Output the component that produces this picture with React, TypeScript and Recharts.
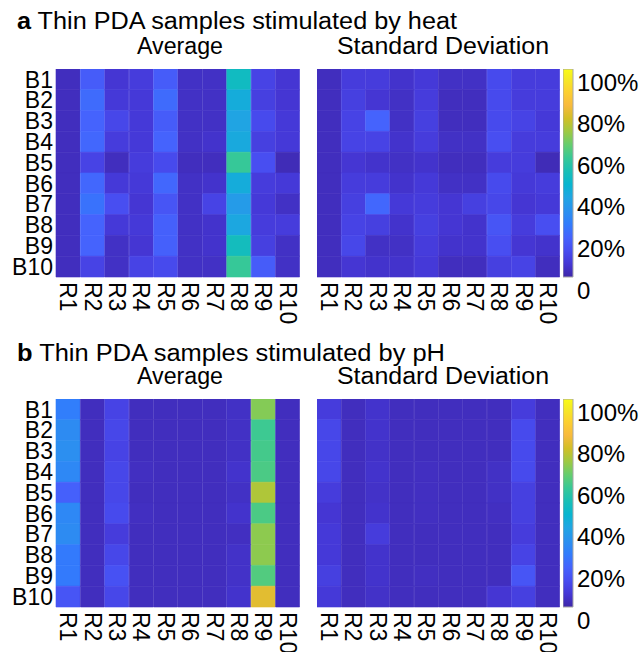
import React from 'react'
import { Bar, BarChart, Cell, XAxis, YAxis } from 'recharts'

const FONT = '"Liberation Sans", Arial, Helvetica, sans-serif'

const bLabels = ['B1', 'B2', 'B3', 'B4', 'B5', 'B6', 'B7', 'B8', 'B9', 'B10']
const rLabels = ['R1', 'R2', 'R3', 'R4', 'R5', 'R6', 'R7', 'R8', 'R9', 'R10']

// rows B1..B10, columns R1..R10, as a fraction of full scale
const heatAverage = [
  [0.03, 0.17, 0.06, 0.08, 0.17, 0.04, 0.04, 0.48, 0.1, 0.06],
  [0.03, 0.21, 0.07, 0.07, 0.21, 0.04, 0.04, 0.41, 0.09, 0.06],
  [0.03, 0.19, 0.11, 0.07, 0.17, 0.04, 0.04, 0.38, 0.12, 0.07],
  [0.03, 0.2, 0.08, 0.07, 0.19, 0.04, 0.05, 0.4, 0.09, 0.07],
  [0.03, 0.1, 0.03, 0.08, 0.12, 0.03, 0.03, 0.57, 0.13, 0.02],
  [0.03, 0.2, 0.07, 0.07, 0.2, 0.04, 0.05, 0.41, 0.08, 0.07],
  [0.03, 0.23, 0.13, 0.06, 0.15, 0.04, 0.1, 0.35, 0.07, 0.04],
  [0.03, 0.19, 0.07, 0.07, 0.18, 0.04, 0.05, 0.39, 0.08, 0.08],
  [0.03, 0.19, 0.04, 0.06, 0.18, 0.04, 0.05, 0.49, 0.09, 0.04],
  [0.03, 0.1, 0.04, 0.1, 0.12, 0.04, 0.04, 0.57, 0.17, 0.04],
]

const heatStd = [
  [0.03, 0.08, 0.08, 0.05, 0.07, 0.04, 0.04, 0.12, 0.08, 0.08],
  [0.03, 0.09, 0.06, 0.04, 0.08, 0.03, 0.03, 0.12, 0.08, 0.08],
  [0.03, 0.1, 0.19, 0.04, 0.09, 0.03, 0.03, 0.12, 0.1, 0.07],
  [0.03, 0.1, 0.1, 0.05, 0.08, 0.04, 0.04, 0.13, 0.08, 0.08],
  [0.03, 0.06, 0.05, 0.04, 0.05, 0.03, 0.03, 0.08, 0.08, 0.02],
  [0.03, 0.08, 0.08, 0.05, 0.07, 0.04, 0.04, 0.12, 0.07, 0.08],
  [0.03, 0.09, 0.2, 0.07, 0.08, 0.06, 0.09, 0.11, 0.06, 0.07],
  [0.03, 0.1, 0.09, 0.05, 0.09, 0.06, 0.05, 0.15, 0.08, 0.13],
  [0.03, 0.11, 0.04, 0.04, 0.08, 0.05, 0.05, 0.13, 0.06, 0.05],
  [0.03, 0.06, 0.05, 0.05, 0.07, 0.03, 0.03, 0.09, 0.1, 0.03],
]

const phAverage = [
  [0.26, 0.03, 0.1, 0.03, 0.03, 0.03, 0.03, 0.04, 0.67, 0.03],
  [0.3, 0.03, 0.11, 0.03, 0.03, 0.03, 0.03, 0.04, 0.58, 0.03],
  [0.31, 0.03, 0.1, 0.03, 0.03, 0.03, 0.03, 0.04, 0.59, 0.03],
  [0.29, 0.03, 0.11, 0.035, 0.03, 0.03, 0.03, 0.05, 0.6, 0.03],
  [0.18, 0.03, 0.11, 0.03, 0.03, 0.03, 0.03, 0.04, 0.72, 0.03],
  [0.29, 0.03, 0.12, 0.035, 0.03, 0.03, 0.03, 0.05, 0.6, 0.03],
  [0.3, 0.03, 0.08, 0.03, 0.03, 0.03, 0.03, 0.035, 0.68, 0.03],
  [0.25, 0.03, 0.11, 0.03, 0.03, 0.03, 0.03, 0.045, 0.68, 0.03],
  [0.25, 0.03, 0.14, 0.03, 0.03, 0.03, 0.03, 0.045, 0.61, 0.03],
  [0.15, 0.03, 0.11, 0.03, 0.03, 0.03, 0.03, 0.05, 0.79, 0.03],
]

const phStd = [
  [0.08, 0.03, 0.05, 0.03, 0.03, 0.03, 0.03, 0.03, 0.08, 0.03],
  [0.11, 0.03, 0.05, 0.03, 0.03, 0.03, 0.03, 0.03, 0.12, 0.03],
  [0.11, 0.03, 0.045, 0.03, 0.03, 0.03, 0.03, 0.03, 0.12, 0.03],
  [0.11, 0.03, 0.05, 0.03, 0.035, 0.03, 0.03, 0.04, 0.12, 0.03],
  [0.08, 0.03, 0.045, 0.03, 0.035, 0.03, 0.03, 0.04, 0.09, 0.03],
  [0.06, 0.03, 0.05, 0.03, 0.035, 0.03, 0.03, 0.035, 0.09, 0.03],
  [0.07, 0.03, 0.08, 0.03, 0.03, 0.03, 0.03, 0.03, 0.08, 0.03],
  [0.07, 0.03, 0.05, 0.03, 0.03, 0.03, 0.03, 0.03, 0.1, 0.03],
  [0.09, 0.03, 0.05, 0.03, 0.035, 0.03, 0.03, 0.03, 0.15, 0.03],
  [0.07, 0.03, 0.045, 0.03, 0.03, 0.03, 0.03, 0.06, 0.09, 0.03],
]

const colorTicks = [0, 0.2, 0.4, 0.6, 0.8, 1]
const colorTickLabels = ['0', '20%', '40%', '60%', '80%', '100%']

// parula colormap, every 4th entry of the 64-entry table
const parulaStops = [
  [0.2422, 0.1504, 0.6603],
  [0.2706, 0.2147, 0.8364],
  [0.2813, 0.3006, 0.9414],
  [0.2699, 0.3892, 0.9906],
  [0.1963, 0.4847, 0.9892],
  [0.1687, 0.5703, 0.9359],
  [0.1248, 0.6459, 0.8883],
  [0.0297, 0.7082, 0.8163],
  [0.0964, 0.75, 0.712],
  [0.2161, 0.7843, 0.5923],
  [0.3909, 0.8029, 0.4354],
  [0.6174, 0.7876, 0.2612],
  [0.8203, 0.7498, 0.1535],
  [0.9728, 0.7298, 0.2394],
  [0.9892, 0.8136, 0.1885],
  [0.9597, 0.9135, 0.1423],
  [0.9769, 0.9839, 0.0805],
]
const parulaPos = [0, 4, 8, 12, 16, 20, 24, 28, 32, 36, 40, 44, 48, 52, 56, 60, 63].map((i) => i / 63)

function toHex(rgb: number[]) {
  return '#' + rgb.map((c) => Math.round(c * 255).toString(16).padStart(2, '0')).join('')
}

function parula(value: number) {
  const v = Math.max(0, Math.min(1, value))
  let k = 0
  while (k < parulaPos.length - 2 && v > parulaPos[k + 1]) k++
  const t = (v - parulaPos[k]) / (parulaPos[k + 1] - parulaPos[k])
  const a = parulaStops[k]
  const b = parulaStops[k + 1]
  return toHex(a.map((c, i) => c + (b[i] - c) * t))
}

function RotatedTick(props: any) {
  const { x, y, payload } = props
  return (
    <text
      transform={`translate(${x},${y + 5}) rotate(90)`}
      textAnchor="start"
      dominantBaseline="central"
      fontSize={23}
      fontFamily={FONT}
      fill="#000"
    >
      {payload.value}
    </text>
  )
}

function ColorTick(props: any) {
  const { x, y, payload, index } = props
  return (
    <text x={x + 4} y={y + 13} dominantBaseline="central" fontSize={24} fontFamily={FONT} fill="#000">
      {colorTickLabels[index] ?? payload.value}
    </text>
  )
}

interface HeatmapProps {
  values: number[][]
  showRows: boolean
}

function Heatmap({ values, showRows }: HeatmapProps) {
  const data = rLabels.map((r) => {
    const row: Record<string, string | number> = { r }
    bLabels.forEach((b) => {
      row[b] = 1
    })
    return row
  })
  const rowTicks = bLabels.map((_, i) => i + 0.5)

  return (
    <BarChart
      width={showRows ? 300 : 243}
      height={263}
      data={data}
      margin={{ top: 0, right: 0, bottom: 0, left: 0 }}
      barCategoryGap={0}
      barGap={0}
    >
      <XAxis
        dataKey="r"
        interval={0}
        tick={<RotatedTick />}
        axisLine={false}
        tickLine={false}
        tickSize={0}
        tickMargin={0}
        height={55}
      />
      <YAxis
        type="number"
        domain={[0, 10]}
        reversed
        ticks={rowTicks}
        interval={0}
        tickFormatter={(v: number) => bLabels[Math.floor(v)]}
        tick={{ fontSize: 23, fill: '#000', fontFamily: FONT }}
        axisLine={false}
        tickLine={false}
        tickSize={0}
        tickMargin={3}
        width={56}
        hide={!showRows}
      />
      {bLabels.map((b, i) => (
        <Bar key={b} dataKey={b} stackId="cells" isAnimationActive={false}>
          {rLabels.map((r, j) => {
            const c = parula(values[i][j])
            return <Cell key={r} fill={c} stroke={c} strokeWidth={0.6} />
          })}
        </Bar>
      ))}
    </BarChart>
  )
}

function Colorbar({ id }: { id: string }) {
  return (
    <BarChart
      width={90}
      height={240}
      data={[{ name: 'scale', level: 1 }]}
      margin={{ top: 0, right: 0, bottom: 32, left: 0 }}
      barCategoryGap={0}
    >
      <defs>
        <linearGradient id={id} x1="0" y1="1" x2="0" y2="0">
          {parulaStops.map((s, i) => (
            <stop key={i} offset={parulaPos[i]} stopColor={toHex(s)} />
          ))}
        </linearGradient>
      </defs>
      <XAxis dataKey="name" hide />
      <YAxis
        orientation="right"
        type="number"
        domain={[0, 1]}
        ticks={colorTicks}
        interval={0}
        tick={<ColorTick />}
        axisLine={false}
        tickLine={false}
        tickSize={0}
        tickMargin={0}
        width={80}
      />
      <Bar dataKey="level" fill={`url(#${id})`} stroke="#a6a6a6" strokeWidth={1} isAnimationActive={false} />
    </BarChart>
  )
}

const place = (left: number, top: number): React.CSSProperties => ({ position: 'absolute', left, top })

export default function App() {
  return (
    <div style={{ position: 'absolute', left: 0, top: 0, width: 642, height: 652, background: '#fff', overflow: 'hidden' }}>
      <svg width={642} height={652} style={{ position: 'absolute', left: 0, top: 0 }} fontFamily={FONT}>
        <text x={17} y={29} fontSize={23} textLength={440} lengthAdjust="spacingAndGlyphs">
          <tspan fontWeight="bold">a</tspan> Thin PDA samples stimulated by heat
        </text>
        <text x={137} y={54} fontSize={23} textLength={86} lengthAdjust="spacingAndGlyphs">Average</text>
        <text x={337} y={54} fontSize={23} textLength={212} lengthAdjust="spacingAndGlyphs">Standard Deviation</text>
        <text x={17} y={361} fontSize={23} textLength={428} lengthAdjust="spacingAndGlyphs">
          <tspan fontWeight="bold">b</tspan> Thin PDA samples stimulated by pH
        </text>
        <text x={137} y={384} fontSize={23} textLength={86} lengthAdjust="spacingAndGlyphs">Average</text>
        <text x={337} y={384} fontSize={23} textLength={212} lengthAdjust="spacingAndGlyphs">Standard Deviation</text>
      </svg>
      <div style={place(0, 69)}>
        <Heatmap values={heatAverage} showRows />
      </div>
      <div style={place(317, 69)}>
        <Heatmap values={heatStd} showRows={false} />
      </div>
      <div style={place(563, 69)}>
        <Colorbar id="parulaA" />
      </div>
      <div style={place(0, 399)}>
        <Heatmap values={phAverage} showRows />
      </div>
      <div style={place(317, 399)}>
        <Heatmap values={phStd} showRows={false} />
      </div>
      <div style={place(563, 399)}>
        <Colorbar id="parulaB" />
      </div>
    </div>
  )
}
